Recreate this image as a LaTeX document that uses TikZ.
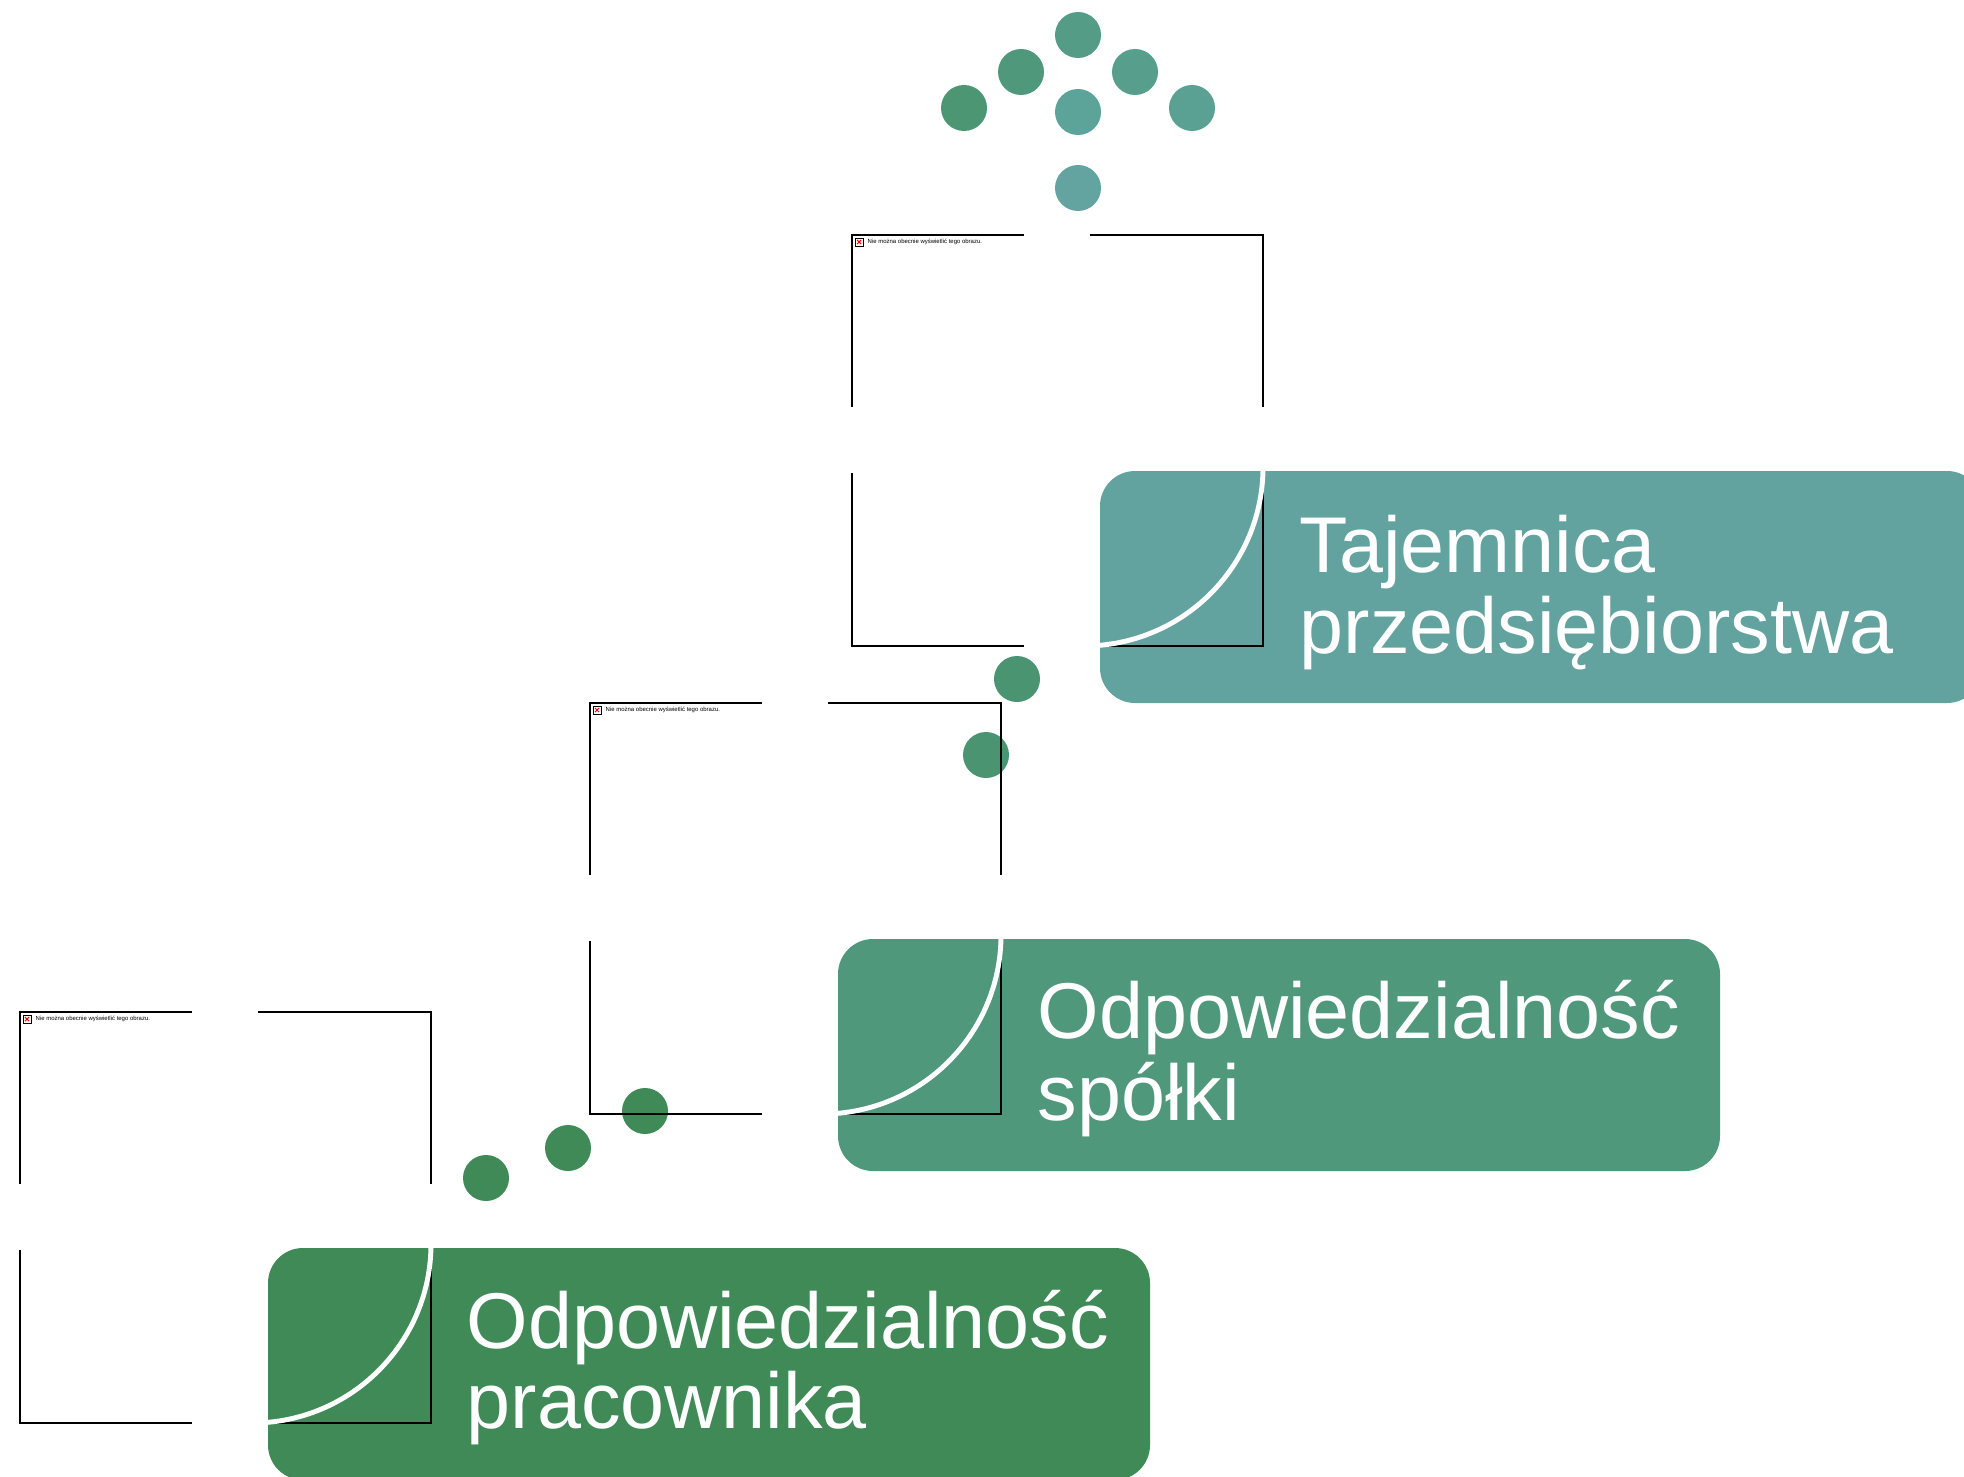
\documentclass[tikz,border=0pt]{standalone}
\usepackage{fontspec}
\setmainfont{Liberation Sans}
\usepackage{tikz}
\usepackage{xcolor}
\definecolor{tealbox}{HTML}{63A39F}
\definecolor{midbox}{HTML}{50987B}
\definecolor{darkbox}{HTML}{3F8A57}
\definecolor{dotTop}{HTML}{549C85}
\definecolor{dotUL}{HTML}{4F987C}
\definecolor{dotL}{HTML}{4C9674}
\definecolor{dotUR}{HTML}{579E8D}
\definecolor{dotR}{HTML}{5AA194}
\definecolor{dotM}{HTML}{5CA39A}
\definecolor{dotB}{HTML}{63A4A0}
\definecolor{dotLow}{HTML}{4A9472}

\begin{document}
\begin{tikzpicture}[x=0.01cm,y=-0.01cm,
  boxtext/.style={text=white,font=\fontsize{22.5}{22.5}\selectfont,anchor=base west,inner sep=0pt},
  greenbox/.style={rounded corners=0.35cm}]
\useasboundingbox (0,0) rectangle (1964,1476);
\clip (0,0) rectangle (1964,1476);

% Arrow of dots at the top
\foreach \px/\py/\col in {1078/35/dotTop, 1021/72/dotUL, 1135/72/dotUR,
    964/108/dotL, 1192/108/dotR, 1078/112/dotM, 1078/188/dotB}
  \fill[\col] (\px,\py) circle[radius=23];

% Dots between the steps
\foreach \px/\py/\col in {1017/679/dotLow, 986/755/dotLow,
    645/1111/darkbox, 568/1148/darkbox, 486/1178/darkbox}
  \fill[\col] (\px,\py) circle[radius=23];

% Green boxes
\fill[greenbox,tealbox] (1100,471) rectangle (1982,703);
\fill[greenbox,midbox] (838,939) rectangle (1720,1171);
\fill[greenbox,darkbox] (268,1248) rectangle (1150,1480);

% Picture frames (image not shown)
\foreach \fx/\fy in {852/235, 590/703, 20/1012} {
  \draw[line width=0.4pt] (\fx,\fy+172) -- (\fx,\fy) -- (\fx+172,\fy);
  \draw[line width=0.4pt] (\fx+238,\fy) -- (\fx+411,\fy) -- (\fx+411,\fy+172);
  \draw[line width=0.4pt] (\fx+411,\fy+238) -- (\fx+411,\fy+411) -- (\fx+238,\fy+411);
  \draw[line width=0.4pt] (\fx+172,\fy+411) -- (\fx,\fy+411) -- (\fx,\fy+238);
  \draw[line width=0.2pt] (\fx+3,\fy+3) rectangle (\fx+11,\fy+11);
  \draw[red,line width=0.3pt] (\fx+5,\fy+5) -- (\fx+9,\fy+9) (\fx+5,\fy+9) -- (\fx+9,\fy+5);
  \node[anchor=west,inner sep=0pt,font=\fontsize{1.7}{2}\selectfont] (note-\fx) at (\fx+15,\fy+7)
    {Nie można obecnie wyświetlić tego obrazu.};
  % white arc
  \draw[white,line width=1.4pt] (\fx+411,\fy+232) arc[start angle=0,end angle=90,radius=179];
}

% Texts
\node[boxtext] (tajemnica) at (1299,572) {Tajemnica};
\node[boxtext] (przeds) at (1299,653) {przedsiębiorstwa};
\node[boxtext] (odpspolki) at (1037,1038) {Odpowiedzialność};
\node[boxtext] (spolki) at (1037,1120) {spółki};
\node[boxtext] (odpprac) at (466,1348) {Odpowiedzialność};
\node[boxtext] (pracownika) at (466,1428) {pracownika};
\end{tikzpicture}
\end{document}
